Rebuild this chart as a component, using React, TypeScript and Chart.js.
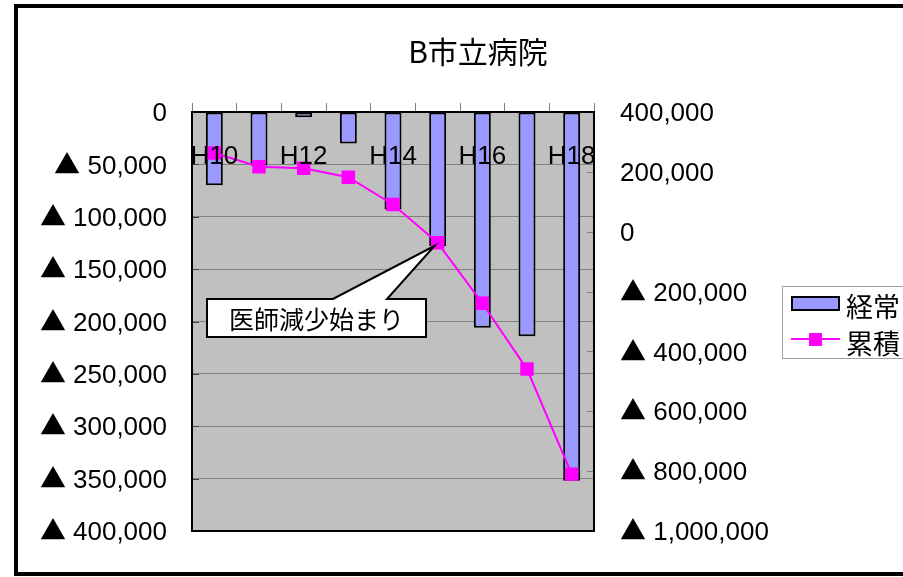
import React, { useEffect, useRef } from "react";
import { Chart, registerables } from "chart.js";

Chart.register(...registerables);

const categories = ["H10", "H11", "H12", "H13", "H14", "H15", "H16", "H17", "H18"];
const keijo = [-70000, -51000, -5000, -30000, -93000, -128000, -206000, -214000, -352000];
const ruiseki = [263000, 217000, 212000, 182000, 91000, -37000, -239000, -459000, -810000];
const title = "B市立病院";
const calloutText = "医師減少始まり";
const calloutIndex = 5;
const legendLabels = ["経常", "累積"];

const FONT = '"TriMix", "Liberation Sans", "Noto Sans CJK JP", "DejaVu Sans", sans-serif';
const CJK = '"Noto Sans CJK JP", "Liberation Sans", sans-serif';

function fmt(v: number): string {
  if (v === 0) return "0";
  const s = Math.abs(v).toLocaleString("en-US");
  return v < 0 ? "▲ " + s : s;
}

const decor = {
  id: "decor",
  beforeDraw(chart: any) {
    const { ctx, chartArea: a } = chart;
    ctx.save();
    ctx.fillStyle = "#ffffff";
    ctx.fillRect(0, 0, chart.width, chart.height);
    ctx.fillStyle = "#C0C0C0";
    ctx.fillRect(a.left, a.top, a.right - a.left, a.bottom - a.top);
    ctx.restore();
  },
  beforeDatasetsDraw(chart: any) {
    const { ctx, chartArea: a } = chart;
    const y2 = chart.scales.y2;
    const y = chart.scales.y;
    ctx.save();
    ctx.strokeStyle = "#808080";
    ctx.lineWidth = 1;
    y2.ticks.forEach((t: any) => {
      const py = Math.round(y2.getPixelForValue(t.value)) + 0.5;
      ctx.beginPath();
      ctx.moveTo(a.right - 7, py);
      ctx.lineTo(a.right, py);
      ctx.stroke();
    });
    ctx.strokeStyle = "#404040";
    y.ticks.forEach((t: any) => {
      const py = Math.round(y.getPixelForValue(t.value)) + 0.5;
      ctx.beginPath();
      ctx.moveTo(a.left, py);
      ctx.lineTo(a.left + 7, py);
      ctx.stroke();
    });
    ctx.strokeStyle = "#000000";
    ctx.lineWidth = 2;
    ctx.strokeRect(a.left, a.top, a.right - a.left, a.bottom - a.top);
    ctx.restore();
  },
  afterDraw(chart: any) {
    const { ctx } = chart;
    const x = chart.scales.x;
    ctx.save();
    ctx.fillStyle = "#000";
    ctx.font = "30px " + CJK;
    ctx.textAlign = "center";
    ctx.textBaseline = "middle";
    ctx.fillText(title, 478, 52);

    ctx.font = "26px " + FONT;
    categories.forEach((c, i) => {
      if (i % 2 !== 0) return;
      ctx.fillText(c, x.getPixelForValue(i), 157);
    });

    const meta = chart.getDatasetMeta(1);
    const pt = meta.data[calloutIndex];
    const bx0 = 207, bx1 = 426, by0 = 299, by1 = 337;
    ctx.beginPath();
    ctx.moveTo(bx0, by0);
    ctx.lineTo(333, by0);
    ctx.lineTo(pt.x - 3, pt.y + 3);
    ctx.lineTo(387, by0);
    ctx.lineTo(bx1, by0);
    ctx.lineTo(bx1, by1);
    ctx.lineTo(bx0, by1);
    ctx.closePath();
    ctx.fillStyle = "#ffffff";
    ctx.fill();
    ctx.strokeStyle = "#000";
    ctx.lineWidth = 2;
    ctx.stroke();
    ctx.fillStyle = "#000";
    ctx.font = "25px " + CJK;
    ctx.textAlign = "center";
    ctx.fillText(calloutText, (bx0 + bx1) / 2, (by0 + by1) / 2 + 1);

    ctx.fillStyle = "#fff";
    ctx.fillRect(782, 286, 130, 72);
    ctx.strokeStyle = "#A0A0A0";
    ctx.lineWidth = 1;
    ctx.strokeRect(782.5, 286.5, 130, 72);
    ctx.fillStyle = "#9999FF";
    ctx.fillRect(792, 297, 47, 13);
    ctx.strokeStyle = "#000";
    ctx.lineWidth = 2;
    ctx.strokeRect(792, 297, 47, 13);
    ctx.strokeStyle = "#FF00FF";
    ctx.beginPath();
    ctx.moveTo(791, 339);
    ctx.lineTo(840, 339);
    ctx.stroke();
    ctx.fillStyle = "#FF00FF";
    ctx.fillRect(809, 333, 13, 13);
    ctx.fillStyle = "#000";
    ctx.font = "27px " + CJK;
    ctx.textAlign = "left";
    ctx.fillText(legendLabels[0], 846, 307);
    ctx.fillText(legendLabels[1], 846, 344);

    ctx.strokeStyle = "#000";
    ctx.lineWidth = 4;
    ctx.strokeRect(16, 6, 900, 568);
    ctx.restore();
  },
};

function ensureFonts(): Promise<void> {
  if (!document.getElementById("trimix-style")) {
    const st = document.createElement("style");
    st.id = "trimix-style";
    st.textContent =
      '@font-face{font-family:"TriMix";src:local("Noto Sans CJK JP"),local("Noto Sans CJK JP Regular"),local("NotoSansCJKjp-Regular");unicode-range:U+25B2;}';
    document.head.appendChild(st);
  }
  const fonts: any = (document as any).fonts;
  if (!fonts || !fonts.load) return Promise.resolve();
  return Promise.all([
    fonts.load('26px "TriMix"', "▲"),
    fonts.load('26px "Noto Sans CJK JP"', "医師経常累積B市立病院"),
    fonts.load('26px "Liberation Sans"', "0123"),
  ])
    .then(() => undefined)
    .catch(() => undefined);
}

export default function App() {
  const ref = useRef<HTMLCanvasElement | null>(null);
  useEffect(() => {
    document.body.style.margin = "0";
    let chart: Chart | null = null;
    let cancelled = false;
    ensureFonts().then(() => {
      if (cancelled || !ref.current) return;
      chart = new Chart(ref.current, {
        type: "bar",
        data: {
          labels: categories,
          datasets: [
            {
              type: "bar",
              label: legendLabels[0],
              data: keijo,
              backgroundColor: "#9999FF",
              borderColor: "#000000",
              borderWidth: 2,
              borderSkipped: false,
              barPercentage: 0.38,
              categoryPercentage: 1,
              yAxisID: "y",
              order: 1,
            },
            {
              type: "line",
              label: legendLabels[1],
              data: ruiseki,
              borderColor: "#FF00FF",
              backgroundColor: "#FF00FF",
              borderWidth: 2,
              pointStyle: "rect",
              pointRadius: 9.5,
              pointBorderWidth: 0,
              tension: 0,
              yAxisID: "y2",
              order: 0,
            } as any,
          ],
        },
        options: {
          responsive: false,
          animation: false,
          layout: { padding: { left: 0, right: 0, top: 0, bottom: 46 } },
          plugins: { legend: { display: false }, title: { display: false }, tooltip: { enabled: false } },
          scales: {
            x: {
              position: "top",
              offset: true,
              grid: { display: true, drawOnChartArea: false, drawTicks: true, tickLength: 9, color: "#808080", offset: true },
              border: { display: false },
              ticks: { display: false },
              afterFit(s: any) { s.height = 112; },
            },
            y: {
              position: "left",
              min: -400000,
              max: 0,
              ticks: {
                stepSize: 50000,
                color: "#000",
                font: { size: 26, family: FONT },
                padding: 25,
                labelOffset: 2,
                callback: (v: any) => fmt(Number(v)),
              },
              grid: { color: "#808080", drawTicks: false, lineWidth: 1 },
              border: { display: false },
              afterFit(s: any) { s.width = 192; },
            },
            y2: {
              position: "right",
              min: -1000000,
              max: 400000,
              ticks: {
                stepSize: 200000,
                color: "#000",
                font: { size: 26, family: FONT },
                padding: 26,
                labelOffset: 2,
                callback: (v: any) => fmt(Number(v)),
              },
              grid: { drawOnChartArea: false, drawTicks: false },
              border: { display: false },
              afterFit(s: any) { s.width = 309; },
            },
          },
        } as any,
        plugins: [decor],
      });
    });
    return () => {
      cancelled = true;
      if (chart) chart.destroy();
    };
  }, []);
  return <canvas ref={ref} width={903} height={577} style={{ display: "block" }} />;
}
